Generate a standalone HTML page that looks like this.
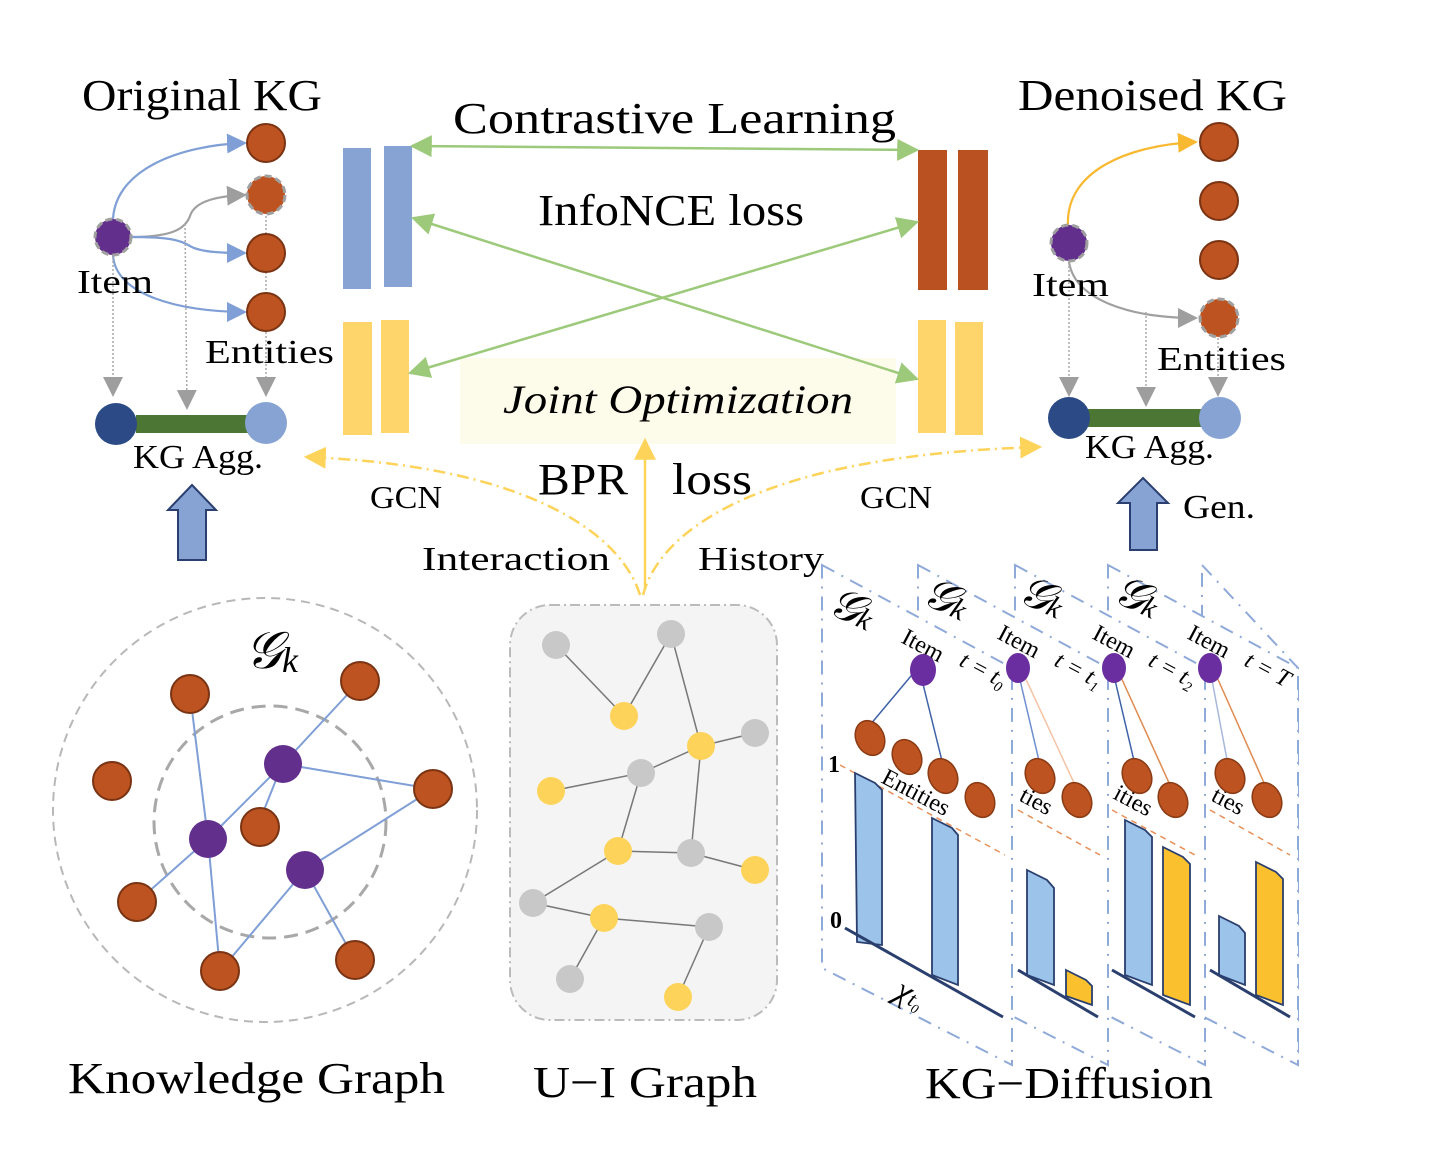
<!DOCTYPE html>
<html><head><meta charset="utf-8"><style>
html,body{margin:0;padding:0;background:#fff;}
svg{display:block;}
text{font-family:"Liberation Serif","DejaVu Serif",serif;fill:#000;}
</style></head><body>
<svg width="1436" height="1152" viewBox="0 0 1436 1152" xmlns="http://www.w3.org/2000/svg">
<defs>
<marker id="ag" viewBox="0 0 10 10" refX="9" refY="5" markerWidth="20" markerHeight="20" orient="auto-start-reverse" markerUnits="userSpaceOnUse"><path d="M0,0L10,5L0,10z" fill="#9e9e9e"/></marker>
<marker id="agr" viewBox="0 0 10 10" refX="9" refY="5" markerWidth="22" markerHeight="22" orient="auto-start-reverse" markerUnits="userSpaceOnUse"><path d="M0,0L10,5L0,10z" fill="#9cc97a"/></marker>
<marker id="ay" viewBox="0 0 10 10" refX="9" refY="5" markerWidth="22" markerHeight="22" orient="auto-start-reverse" markerUnits="userSpaceOnUse"><path d="M0,0L10,5L0,10z" fill="#fdd35a"/></marker>
<marker id="abl" viewBox="0 0 10 10" refX="9" refY="5" markerWidth="20" markerHeight="20" orient="auto" markerUnits="userSpaceOnUse"><path d="M0,0L10,5L0,10z" fill="#7f9fd6"/></marker>
<marker id="ao" viewBox="0 0 10 10" refX="9" refY="5" markerWidth="20" markerHeight="20" orient="auto" markerUnits="userSpaceOnUse"><path d="M0,0L10,5L0,10z" fill="#f8b830"/></marker>
</defs>

<!-- ===== Top-left Original KG ===== -->
<text x="82" y="110" font-size="44" textLength="240" lengthAdjust="spacingAndGlyphs">Original KG</text>
<g fill="none" stroke-width="2.2">
<path d="M113,226 C110,170 180,145 245,143" stroke="#7f9fd6" marker-end="url(#abl)"/>
<path d="M130,237 C170,237 185,230 190,216 C195,200 220,196 245,195" stroke="#a0a0a0" marker-end="url(#ag)"/>
<path d="M130,237 C170,237 180,240 190,246 C200,252 220,253 245,253" stroke="#7f9fd6" marker-end="url(#abl)"/>
<path d="M113,255 C115,295 180,312 245,312" stroke="#7f9fd6" marker-end="url(#abl)"/>
</g>
<g stroke="#aaa" stroke-width="1.5" stroke-dasharray="2,2" fill="none">
<line x1="113" y1="257" x2="113" y2="395" marker-end="url(#ag)"/>
<line x1="185" y1="224" x2="187" y2="408" marker-end="url(#ag)"/>
<line x1="266" y1="212" x2="266" y2="395" marker-end="url(#ag)"/>
</g>
<circle cx="113" cy="237" r="18" fill="#622f8d" stroke="#a0a0a0" stroke-width="3" stroke-dasharray="7,4"/>
<g fill="#bc5320" stroke="#7a3414" stroke-width="2">
<circle cx="266" cy="143" r="19"/><circle cx="266" cy="253" r="19"/><circle cx="266" cy="312" r="19"/>
</g>
<circle cx="266" cy="195" r="19" fill="#bc5320" stroke="#a0a0a0" stroke-width="3" stroke-dasharray="7,4"/>
<text x="77" y="293" font-size="34" textLength="76" lengthAdjust="spacingAndGlyphs">Item</text>
<text x="205" y="363" font-size="34" textLength="129" lengthAdjust="spacingAndGlyphs">Entities</text>
<rect x="136" y="415" width="112" height="18" fill="#4c7634"/>
<circle cx="116" cy="424" r="21" fill="#2b4a86"/>
<circle cx="266" cy="423" r="21" fill="#86a3d4"/>
<text x="133" y="468" font-size="34" textLength="130" lengthAdjust="spacingAndGlyphs">KG Agg.</text>
<path d="M192,485 L216,510 L206,510 L206,560 L178,560 L178,510 L168,510 Z" fill="#86a3d4" stroke="#2b3f70" stroke-width="2"/>

<!-- ===== Top-right Denoised KG ===== -->
<text x="1018" y="110" font-size="44" textLength="269" lengthAdjust="spacingAndGlyphs">Denoised KG</text>
<path d="M1068,226 C1065,170 1130,145 1196,142" fill="none" stroke="#f8b830" stroke-width="2.2" marker-end="url(#ao)"/>
<path d="M1069,262 C1075,300 1130,318 1196,318" fill="none" stroke="#a0a0a0" stroke-width="2.2" marker-end="url(#ag)"/>
<g stroke="#aaa" stroke-width="1.5" stroke-dasharray="2,2" fill="none">
<line x1="1069" y1="262" x2="1069" y2="395" marker-end="url(#ag)"/>
<line x1="1146" y1="312" x2="1146" y2="405" marker-end="url(#ag)"/>
<line x1="1218" y1="338" x2="1218" y2="395" marker-end="url(#ag)"/>
</g>
<circle cx="1069" cy="243" r="18" fill="#622f8d" stroke="#a0a0a0" stroke-width="3" stroke-dasharray="7,4"/>
<g fill="#bc5320" stroke="#7a3414" stroke-width="2">
<circle cx="1219" cy="142" r="19"/><circle cx="1219" cy="201" r="19"/><circle cx="1219" cy="260" r="19"/>
</g>
<circle cx="1219" cy="318" r="19" fill="#bc5320" stroke="#a0a0a0" stroke-width="3" stroke-dasharray="7,4"/>
<text x="1032" y="296" font-size="34" textLength="77" lengthAdjust="spacingAndGlyphs">Item</text>
<text x="1157" y="370" font-size="34" textLength="129" lengthAdjust="spacingAndGlyphs">Entities</text>
<rect x="1088" y="409" width="114" height="18" fill="#4c7634"/>
<circle cx="1069" cy="418" r="21" fill="#2b4a86"/>
<circle cx="1220" cy="418" r="21" fill="#86a3d4"/>
<text x="1085" y="458" font-size="34" textLength="129" lengthAdjust="spacingAndGlyphs">KG Agg.</text>
<path d="M1143,478 L1168,503 L1157,503 L1157,550 L1130,550 L1130,503 L1118,503 Z" fill="#86a3d4" stroke="#2b3f70" stroke-width="2"/>
<text x="1183" y="518" font-size="34" textLength="72" lengthAdjust="spacingAndGlyphs">Gen.</text>

<!-- ===== Centre ===== -->
<rect x="460" y="358" width="436" height="86" fill="#fdfbea"/>
<rect x="343" y="148" width="28" height="141" fill="#86a3d4"/>
<rect x="384" y="146" width="28" height="141" fill="#86a3d4"/>
<rect x="343" y="322" width="29" height="113" fill="#fdd56b"/>
<rect x="381" y="320" width="28" height="113" fill="#fdd56b"/>
<rect x="918" y="150" width="29" height="140" fill="#ba5121"/>
<rect x="958" y="150" width="30" height="140" fill="#ba5121"/>
<rect x="918" y="320" width="28" height="113" fill="#fdd56b"/>
<rect x="955" y="322" width="28" height="113" fill="#fdd56b"/>
<text x="453" y="133" font-size="44" textLength="443" lengthAdjust="spacingAndGlyphs">Contrastive Learning</text>
<text x="538" y="225" font-size="44" textLength="266" lengthAdjust="spacingAndGlyphs">InfoNCE loss</text>
<g stroke="#9cc97a" stroke-width="2.5" fill="none">
<line x1="412" y1="146" x2="917" y2="150" marker-start="url(#agr)" marker-end="url(#agr)"/>
<line x1="413" y1="218" x2="917" y2="379" marker-start="url(#agr)" marker-end="url(#agr)"/>
<line x1="410" y1="373" x2="917" y2="222" marker-start="url(#agr)" marker-end="url(#agr)"/>
</g>
<text x="503" y="413" font-size="40" font-style="italic" textLength="350" lengthAdjust="spacingAndGlyphs">Joint Optimization</text>
<text x="538" y="494" font-size="44" textLength="90" lengthAdjust="spacingAndGlyphs">BPR</text>
<text x="672" y="494" font-size="44" textLength="80" lengthAdjust="spacingAndGlyphs">loss</text>
<line x1="645" y1="590" x2="645" y2="440" stroke="#fdd35a" stroke-width="2.5" marker-end="url(#ay)"/>
<g stroke="#fdd35a" stroke-width="2.5" fill="none" stroke-dasharray="12,5,2,5">
<path d="M640,595 C620,530 520,465 306,457" marker-end="url(#ay)"/>
<path d="M643,595 C660,530 760,455 1040,447" marker-end="url(#ay)"/>
</g>
<text x="370" y="508" font-size="32" textLength="72" lengthAdjust="spacingAndGlyphs">GCN</text>
<text x="860" y="508" font-size="32" textLength="72" lengthAdjust="spacingAndGlyphs">GCN</text>
<text x="422" y="570" font-size="34" textLength="188" lengthAdjust="spacingAndGlyphs">Interaction</text>
<text x="698" y="570" font-size="34" textLength="126" lengthAdjust="spacingAndGlyphs">History</text>

<!-- ===== Knowledge Graph ===== -->
<circle cx="265" cy="810" r="212" fill="none" stroke="#b8b8b8" stroke-width="2" stroke-dasharray="9,6"/>
<circle cx="270" cy="822" r="116" fill="none" stroke="#a8a8a8" stroke-width="3" stroke-dasharray="14,8"/>
<text x="245" y="668" font-size="52" font-style="italic">𝒢<tspan font-size="36" dy="4">k</tspan></text>
<g stroke="#7f9fd6" stroke-width="2">
<line x1="283" y1="764" x2="360" y2="681"/><line x1="283" y1="764" x2="433" y2="789"/>
<line x1="283" y1="764" x2="208" y2="839"/><line x1="208" y1="839" x2="190" y2="694"/>
<line x1="208" y1="839" x2="137" y2="902"/><line x1="208" y1="839" x2="220" y2="971"/>
<line x1="305" y1="870" x2="220" y2="971"/><line x1="305" y1="870" x2="355" y2="960"/>
<line x1="305" y1="870" x2="433" y2="789"/><line x1="262" y1="815" x2="278" y2="775"/>
</g>
<g fill="#bc5320" stroke="#7a3414" stroke-width="2">
<circle cx="190" cy="694" r="19"/><circle cx="360" cy="681" r="19"/><circle cx="112" cy="781" r="19"/>
<circle cx="433" cy="789" r="19"/><circle cx="260" cy="827" r="19"/><circle cx="137" cy="902" r="19"/>
<circle cx="220" cy="971" r="19"/><circle cx="355" cy="960" r="19"/>
</g>
<g fill="#622f8d"><circle cx="283" cy="764" r="19"/><circle cx="208" cy="839" r="19"/><circle cx="305" cy="870" r="19"/></g>
<text x="68" y="1093" font-size="44" textLength="377" lengthAdjust="spacingAndGlyphs">Knowledge Graph</text>

<!-- ===== U-I Graph ===== -->
<rect x="510" y="605" width="267" height="415" rx="40" fill="#f4f4f4" stroke="#bbb" stroke-width="2" stroke-dasharray="10,4,2,4"/>
<g stroke="#777" stroke-width="1.5">
<line x1="556" y1="645" x2="624" y2="716"/><line x1="624" y1="716" x2="671" y2="634"/>
<line x1="671" y1="634" x2="701" y2="746"/><line x1="701" y1="746" x2="755" y2="733"/>
<line x1="701" y1="746" x2="691" y2="853"/><line x1="551" y1="791" x2="641" y2="773"/>
<line x1="641" y1="773" x2="701" y2="746"/><line x1="641" y1="773" x2="618" y2="851"/>
<line x1="618" y1="851" x2="691" y2="853"/><line x1="618" y1="851" x2="533" y2="903"/>
<line x1="533" y1="903" x2="604" y2="918"/><line x1="604" y1="918" x2="709" y2="927"/>
<line x1="691" y1="853" x2="755" y2="870"/><line x1="709" y1="927" x2="678" y2="997"/>
<line x1="604" y1="918" x2="570" y2="979"/>
</g>
<g fill="#c8c8c8"><circle cx="556" cy="645" r="14"/><circle cx="671" cy="634" r="14"/><circle cx="755" cy="733" r="14"/><circle cx="641" cy="773" r="14"/><circle cx="691" cy="853" r="14"/><circle cx="533" cy="903" r="14"/><circle cx="709" cy="927" r="14"/><circle cx="570" cy="979" r="14"/></g>
<g fill="#fdd35a"><circle cx="624" cy="716" r="14"/><circle cx="701" cy="746" r="14"/><circle cx="551" cy="791" r="14"/><circle cx="618" cy="851" r="14"/><circle cx="755" cy="870" r="14"/><circle cx="604" cy="918" r="14"/><circle cx="678" cy="997" r="14"/></g>
<text x="533" y="1097" font-size="44" textLength="224" lengthAdjust="spacingAndGlyphs">U−I Graph</text>

<!-- ===== KG Diffusion ===== -->
<g stroke="#8fa9d9" stroke-width="2" stroke-dasharray="14,8,2,8" fill="#fff">
<polygon points="1202,565 1298,668 1298,1065 1202,970"/>
<polygon points="1108,565 1298,668 1298,1065 1108,968"/>
<polygon points="1015,565 1205,668 1205,1065 1015,968"/>
<polygon points="918,565 1108,668 1108,1065 918,968"/>
<polygon points="822,565 1012,668 1012,1065 822,968"/>
</g>
<g font-style="italic" font-size="44">
<text x="826" y="612" transform="rotate(25 826 612)">𝒢<tspan font-size="30">k</tspan></text>
<text x="920" y="602" transform="rotate(25 920 602)">𝒢<tspan font-size="30">k</tspan></text>
<text x="1016" y="600" transform="rotate(25 1016 600)">𝒢<tspan font-size="30">k</tspan></text>
<text x="1111" y="600" transform="rotate(25 1111 600)">𝒢<tspan font-size="30">k</tspan></text>
</g>
<g font-size="24">
<text x="900" y="642" transform="rotate(28 900 642)">Item</text>
<text x="996" y="638" transform="rotate(28 996 638)">Item</text>
<text x="1091" y="638" transform="rotate(28 1091 638)">Item</text>
<text x="1186" y="638" transform="rotate(28 1186 638)">Item</text>
<text x="958" y="665" font-style="italic" transform="rotate(28 958 665)">t = t₀</text>
<text x="1053" y="665" font-style="italic" transform="rotate(28 1053 665)">t = t₁</text>
<text x="1147" y="665" font-style="italic" transform="rotate(28 1147 665)">t = t₂</text>
<text x="1243" y="665" font-style="italic" transform="rotate(28 1243 665)">t = T</text>
<text x="880" y="782" transform="rotate(28 880 782)">Entities</text>
<text x="1018" y="800" transform="rotate(28 1018 800)">ties</text>
<text x="1112" y="798" transform="rotate(28 1112 798)">ities</text>
<text x="1210" y="800" transform="rotate(28 1210 800)">ties</text>
<text x="828" y="772" font-weight="bold">1</text>
<text x="830" y="928" font-weight="bold">0</text>
<text x="893" y="997" font-style="italic" font-size="34" transform="rotate(28 893 997)">χ<tspan font-size="22">t₀</tspan></text>
</g>
<g stroke-width="1.5" fill="none">
<line x1="916" y1="670" x2="870" y2="725" stroke="#3e62a8"/><line x1="922" y1="680" x2="943" y2="765" stroke="#3e62a8"/>
<line x1="1020" y1="680" x2="1040" y2="765" stroke="#6e8ed0"/><line x1="1024" y1="675" x2="1075" y2="785" stroke="#f5c4a6"/>
<line x1="1115" y1="680" x2="1135" y2="765" stroke="#3e62a8"/><line x1="1120" y1="675" x2="1170" y2="785" stroke="#e08a50"/>
<line x1="1212" y1="680" x2="1228" y2="765" stroke="#a8b8dc"/><line x1="1216" y1="675" x2="1265" y2="785" stroke="#e08a50"/>
</g>
<g fill="#6a2ea0">
<ellipse cx="923" cy="670" rx="13" ry="16"/><ellipse cx="1018" cy="668" rx="12" ry="15"/>
<ellipse cx="1114" cy="668" rx="12" ry="15"/><ellipse cx="1210" cy="668" rx="12" ry="15"/>
</g>
<g fill="#bc5320" stroke="#8a3a14" stroke-width="1.5">
<ellipse cx="870" cy="738" rx="14" ry="18" transform="rotate(-25 870 738)"/>
<ellipse cx="907" cy="757" rx="14" ry="18" transform="rotate(-25 907 757)"/>
<ellipse cx="943" cy="776" rx="14" ry="18" transform="rotate(-25 943 776)"/>
<ellipse cx="980" cy="800" rx="14" ry="18" transform="rotate(-25 980 800)"/>
<ellipse cx="1040" cy="776" rx="14" ry="18" transform="rotate(-25 1040 776)"/>
<ellipse cx="1077" cy="800" rx="14" ry="18" transform="rotate(-25 1077 800)"/>
<ellipse cx="1137" cy="776" rx="14" ry="18" transform="rotate(-25 1137 776)"/>
<ellipse cx="1173" cy="800" rx="14" ry="18" transform="rotate(-25 1173 800)"/>
<ellipse cx="1230" cy="776" rx="14" ry="18" transform="rotate(-25 1230 776)"/>
<ellipse cx="1267" cy="800" rx="14" ry="18" transform="rotate(-25 1267 800)"/>
</g>
<g stroke="#e8905a" stroke-width="1.5" stroke-dasharray="6,5" fill="none">
<line x1="840" y1="765" x2="1005" y2="855"/><line x1="1018" y1="810" x2="1100" y2="855"/>
<line x1="1112" y1="810" x2="1195" y2="855"/><line x1="1210" y1="810" x2="1290" y2="855"/>
</g>
<g stroke="#2a3f6e" stroke-width="1.8">
<path d="M855,773 L875,783 L882,790 L882,945 L857,942 Z" fill="#9cc3ea"/>
<path d="M932,818 L952,828 L958,835 L958,985 L932,975 Z" fill="#9cc3ea"/>
<path d="M1027,870 L1047,880 L1054,888 L1054,985 L1027,975 Z" fill="#9cc3ea"/>
<path d="M1066,970 L1086,980 L1092,986 L1092,1005 L1066,996 Z" fill="#fbc02d"/>
<path d="M1125,820 L1145,830 L1152,837 L1152,985 L1125,975 Z" fill="#9cc3ea"/>
<path d="M1163,847 L1183,857 L1190,864 L1190,1005 L1163,995 Z" fill="#fbc02d"/>
<path d="M1219,916 L1239,926 L1245,933 L1245,985 L1219,975 Z" fill="#9cc3ea"/>
<path d="M1256,862 L1276,872 L1283,879 L1283,1005 L1256,995 Z" fill="#fbc02d"/>
</g>
<g stroke="#2a3f6e" stroke-width="3">
<line x1="845" y1="928" x2="1003" y2="1017"/><line x1="1018" y1="970" x2="1098" y2="1017"/>
<line x1="1112" y1="970" x2="1195" y2="1017"/><line x1="1210" y1="970" x2="1290" y2="1017"/>
</g>
<text x="925" y="1098" font-size="44" textLength="288" lengthAdjust="spacingAndGlyphs">KG−Diffusion</text>
</svg>
</body></html>
